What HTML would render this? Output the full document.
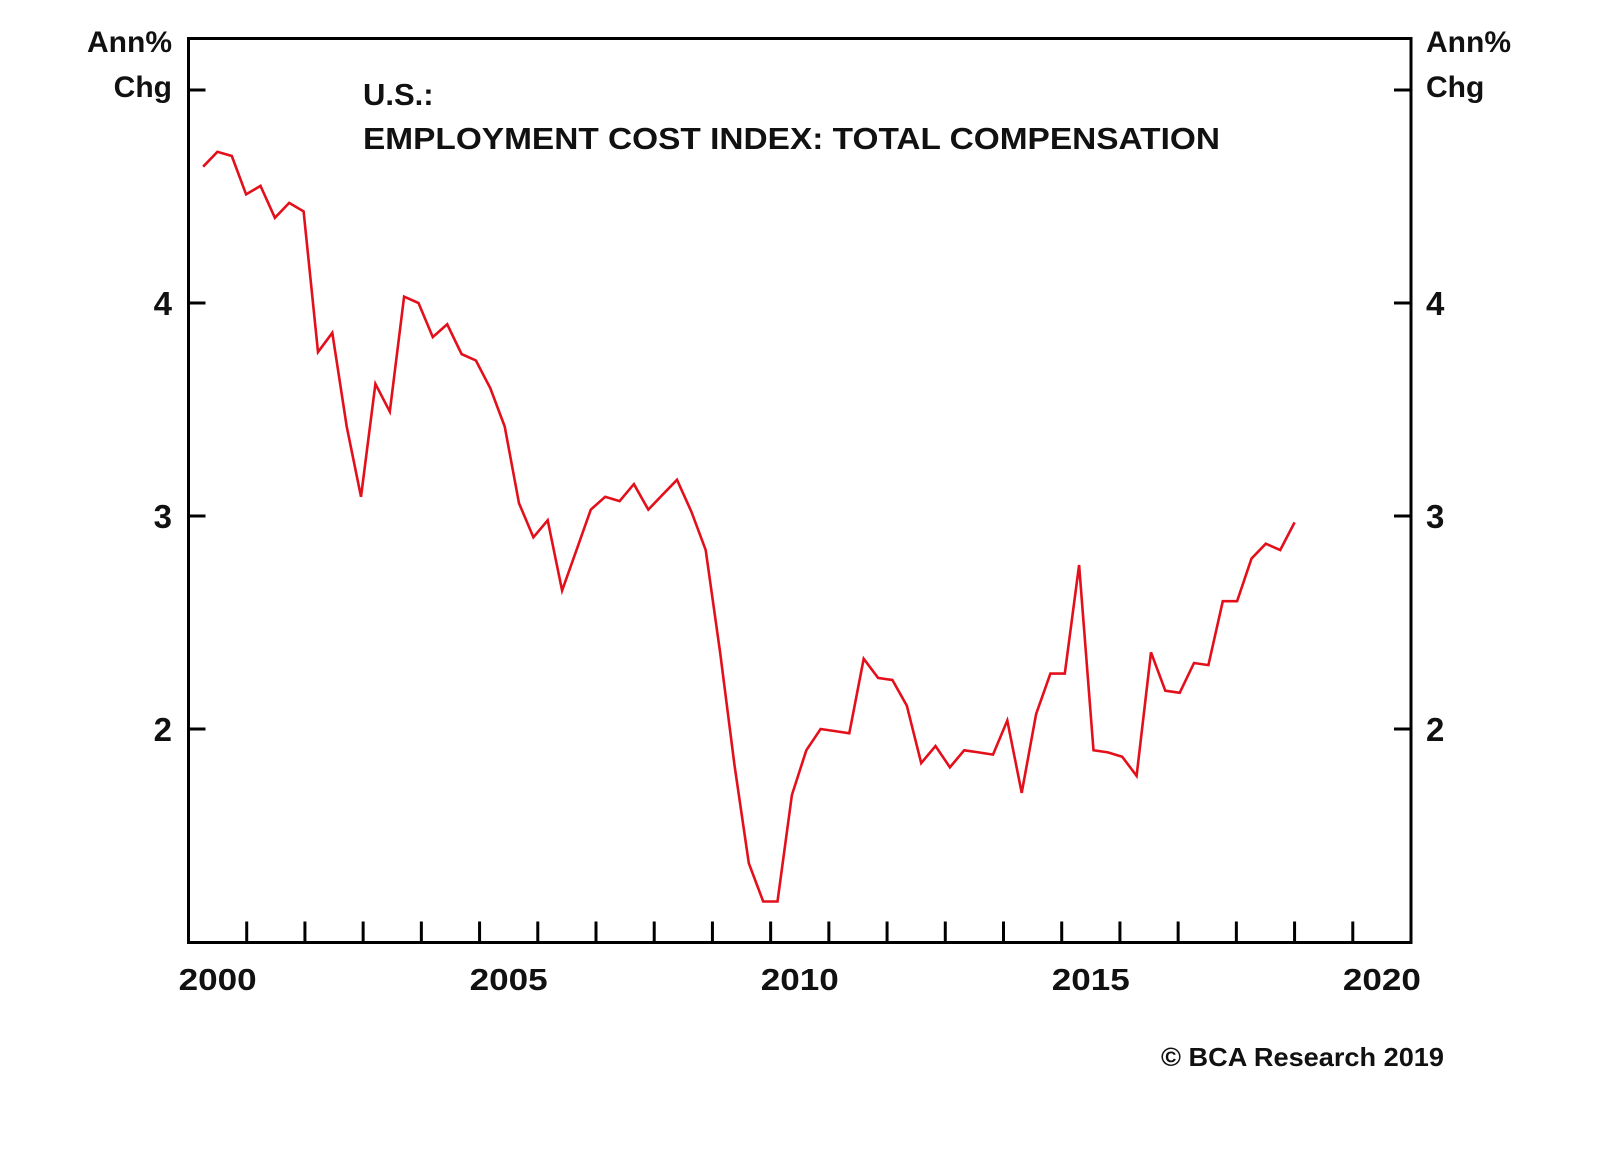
<!DOCTYPE html>
<html><head><meta charset="utf-8"><style>
html,body{margin:0;padding:0;background:#fff;}
svg{display:block;font-family:"Liberation Sans",Arial,sans-serif;font-weight:bold;}
</style></head><body>
<svg id="chart" width="1600" height="1152" viewBox="0 0 1600 1152" xmlns="http://www.w3.org/2000/svg">
<rect x="0" y="0" width="1600" height="1152" fill="#fff"/>
<g id="axes"></g>
<text x="172" y="52" font-size="30" text-anchor="end" fill="#111">Ann%</text>
<text x="172" y="97" font-size="30" text-anchor="end" fill="#111">Chg</text>
<text x="1426" y="52" font-size="30" fill="#111">Ann%</text>
<text x="1426" y="97" font-size="30" fill="#111">Chg</text>
<text x="363" y="105" font-size="31" fill="#111">U.S.:</text>
<text x="363" y="149" font-size="31" fill="#111" textLength="857" lengthAdjust="spacingAndGlyphs">EMPLOYMENT COST INDEX: TOTAL COMPENSATION</text>
<text x="1444" y="1066" font-size="26" text-anchor="end" fill="#111" textLength="283" lengthAdjust="spacingAndGlyphs">© BCA Research 2019</text>
</svg>
<script>
const yTicks = [2, 3, 4, 5];
const yTickLabels = ["2", "3", "4", ""];
const xLabelYears = [2000, 2005, 2010, 2015, 2020];
const startYear = 2000.25;
const eciValues = [4.64,4.71,4.69,4.51,4.55,4.40,4.47,4.43,3.77,3.86,3.42,3.09,3.62,3.49,4.03,4.00,
3.84,3.90,3.76,3.73,3.60,3.42,3.06,2.90,2.98,2.65,2.84,3.03,3.09,3.07,3.15,3.03,3.10,3.17,3.02,2.84,
2.36,1.83,1.37,1.19,1.19,1.69,1.90,2.00,1.99,1.98,2.33,2.24,2.23,2.11,1.84,1.92,1.82,1.90,1.89,1.88,
2.04,1.70,2.07,2.26,2.26,2.77,1.90,1.89,1.87,1.78,2.36,2.18,2.17,2.31,2.30,2.60,2.60,2.80,2.87,2.84,2.97];
const X0=188.5, X1=1411, Y0=38.5, Y1=942.5;
const xMin=2000, xMax=2021;
function xs(t){return X0+(t-xMin)/(xMax-xMin)*(X1-X0);}
function ys(v){return 729-(v-2)*213;}
const NS="http://www.w3.org/2000/svg";
const svg=document.getElementById('chart');
const g=document.getElementById('axes');
function mk(tag,attrs,parent){const e=document.createElementNS(NS,tag);for(const k in attrs)e.setAttribute(k,attrs[k]);(parent||g).appendChild(e);return e;}
let frame=mk('rect',{x:X0,y:Y0,width:X1-X0,height:Y1-Y0,fill:'none',stroke:'#000','stroke-width':3});


yTicks.forEach((v,i)=>{
  const y=ys(v);
  let t1=mk('line',{x1:X0,x2:X0+17,y1:y,y2:y,stroke:'#000','stroke-width':3});
  
  
  let t2=mk('line',{x1:X1-17,x2:X1,y1:y,y2:y,stroke:'#000','stroke-width':3});
  
  
  if(yTickLabels[i]){
    let l=mk('text',{x:172,y:y+12,'font-size':33,'text-anchor':'end',fill:'#111'});
    l.textContent=yTickLabels[i];
    
    
    let r=mk('text',{x:1426,y:y+12,'font-size':33,fill:'#111'});
    r.textContent=yTickLabels[i];
    
    
  }
});
for(let yr=xMin+1; yr<xMax; yr++){
  const x=xs(yr);
  let t=mk('line',{x1:x,x2:x,y1:Y1-21,y2:Y1,stroke:'#000','stroke-width':3});
  
  
}
xLabelYears.forEach(yr=>{
  let l=mk('text',{x:xs(yr+0.5),y:990,'font-size':31,'text-anchor':'middle',fill:'#111',textLength:78,lengthAdjust:'spacingAndGlyphs'});
  l.textContent=String(yr);
  
  
});
const step=(2019.0-startYear)/(eciValues.length-1);
const pts=eciValues.map((v,i)=>xs(startYear+i*step).toFixed(1)+','+ys(v).toFixed(1)).join(' ');
let line=mk('polyline',{points:pts,fill:'none',stroke:'#e3101c','stroke-width':2.6,'stroke-linejoin':'miter'});


</script>
</body></html>
